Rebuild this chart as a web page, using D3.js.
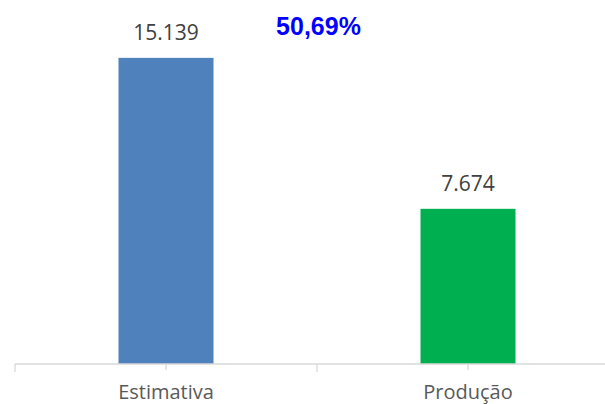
<!DOCTYPE html>
<html><head><meta charset="utf-8">
<script src="https://cdn.jsdelivr.net/npm/d3@7"></script>
<style>body{margin:0;background:#fff}svg{display:block}</style>
</head><body>
<svg id="c" width="605" height="404"></svg>
<script>
const categories = ["Estimativa", "Produção"];
const values = [15139, 7674];
const valueLabels = ["15.139", "7.674"];
const colors = ["#4F81BD", "#00B050"];
const annotation = "50,69%";

const svg = d3.select("#c");
const x = d3.scaleBand().domain(categories).range([15, 619]).paddingInner(0).paddingOuter(0);
const y = d3.scaleLinear().domain([0, 18000]).range([364, 0]);
const barW = 95;

svg.selectAll("rect.bar").data(values).enter().append("rect")
  .attr("x", (d,i) => x(categories[i]) + x.bandwidth()/2 - barW/2)
  .attr("y", d => y(d))
  .attr("width", barW)
  .attr("height", d => y(0) - y(d))
  .attr("fill", (d,i) => colors[i]);

svg.append("line").attr("x1", 15).attr("x2", 605).attr("y1", y(0)).attr("y2", y(0))
  .attr("stroke", "#D9D9D9").attr("stroke-width", 1.3);
const bounds = [x(categories[0]), x(categories[1]), x(categories[1]) + x.bandwidth()];
svg.selectAll("line.tb").data(bounds).enter().append("line")
  .attr("x1", d => d).attr("x2", d => d).attr("y1", y(0)).attr("y2", y(0) + 8)
  .attr("stroke", "#D9D9D9").attr("stroke-width", 1.3);
svg.selectAll("line.tc").data(categories).enter().append("line")
  .attr("x1", d => x(d) + x.bandwidth()/2).attr("x2", d => x(d) + x.bandwidth()/2)
  .attr("y1", y(0)).attr("y2", y(0) + 6)
  .attr("stroke", "#D9D9D9").attr("stroke-width", 1.3);

svg.selectAll("text.cat").data(categories).enter().append("text")
  .attr("x", d => x(d) + x.bandwidth()/2).attr("y", 399)
  .attr("text-anchor", "middle").attr("font-family", "Open Sans")
  .attr("font-size", 20).attr("fill", "#595959").text(d => d);

svg.selectAll("text.val").data(values).enter().append("text")
  .attr("x", (d,i) => x(categories[i]) + x.bandwidth()/2)
  .attr("y", d => y(d) - 18)
  .attr("text-anchor", "middle").attr("font-family", "Open Sans")
  .attr("font-size", 21).attr("fill", "#404040").text((d,i) => valueLabels[i]);

svg.append("text").attr("x", 318.5).attr("y", 35)
  .attr("text-anchor", "middle").attr("font-family", "Liberation Sans")
  .attr("font-weight", "bold").attr("font-size", 25).attr("fill", "#0000FF").text(annotation);
</script>
</body></html>
